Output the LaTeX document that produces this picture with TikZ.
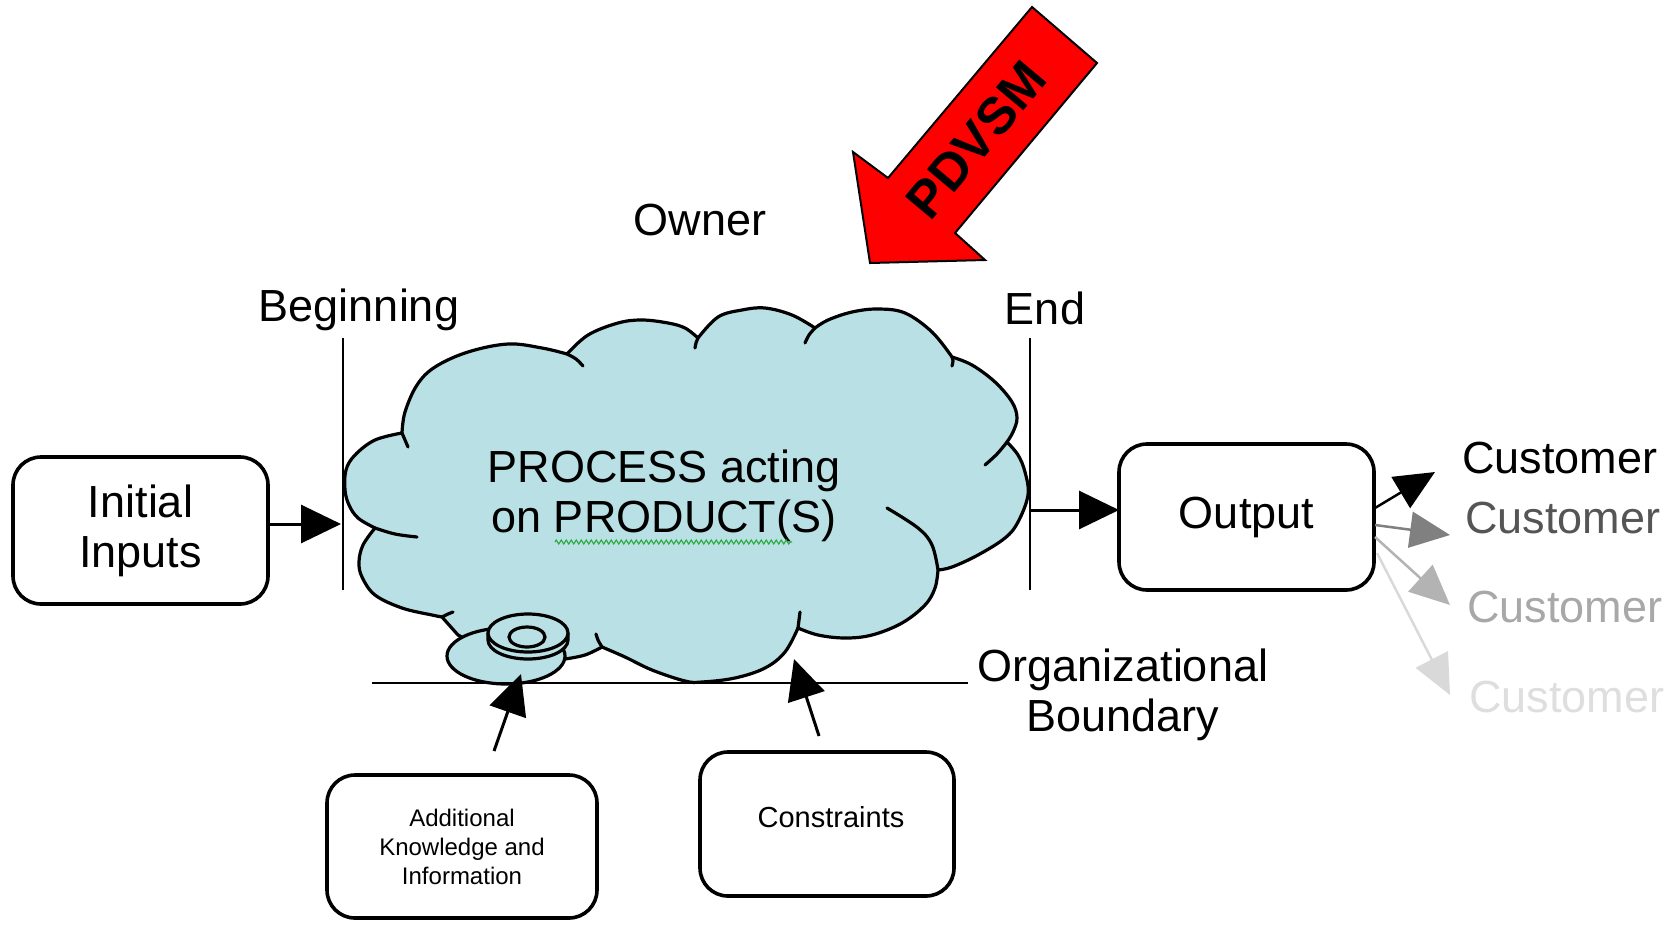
\documentclass[tikz,border=0pt]{standalone}
\usepackage{fontspec}
\setmainfont{Liberation Sans}
\usetikzlibrary{arrows.meta,decorations.pathmorphing,calc}
\definecolor{cloudblue}{RGB}{185,224,228}
\definecolor{ctwo}{HTML}{555555}
\definecolor{ctwoarr}{HTML}{808080}
\definecolor{cthree}{HTML}{A8A8A8}
\definecolor{cthreearr}{HTML}{B3B3B3}
\definecolor{cfour}{HTML}{DEDEDE}
\definecolor{cfourarr}{HTML}{D9D9D9}
\definecolor{spellgreen}{RGB}{40,170,60}
\begin{document}
\begin{tikzpicture}[x=1pt,y=-1pt,
  every node/.style={inner sep=0pt, outer sep=0pt},
  big/.style={font=\fontsize{45}{50}\selectfont, align=center},
  rbox/.style={draw, line width=3.6pt, rounded corners=28pt},
  arr/.style={line width=3pt, -{Triangle[length=40pt,width=38pt]}},
  carr/.style={line width=2.5pt, -{Triangle[length=40pt,width=36pt]}},
  ticks/.style={line width=3.2pt, line cap=round},
  cloudline/.style={line width=3.2pt, line join=round},
  vline/.style={line width=2.6pt},
  sm/.style={smooth, tension=0.6},
]
\useasboundingbox (0,0) rectangle (1677,924);

% ---------- cloud ----------
\path[fill=cloudblue, draw=black, cloudline] (375,528)
 -- plot[sm] coordinates {(375,528) (358,518) (349,505) (345,490) (346,470) (355,455) (375,440) (402,433)}
 -- plot[sm] coordinates {(402,433) (405,412) (417,385) (435,367) (468,352) (508,344) (542,348) (567,354)}
 -- plot[sm] coordinates {(567,354) (588,335) (618,323) (642,320) (668,323) (685,328) (698,338)}
 -- plot[sm] coordinates {(698,338) (718,317) (742,310) (765,308) (792,315) (815,328)}
 -- plot[sm] coordinates {(815,328) (828,320) (852,312) (878,309) (905,313) (932,332) (952,357)}
 -- plot[sm] coordinates {(952,357) (972,365) (995,382) (1012,402) (1017,418) (1013,432) (1007,442)}
 -- plot[sm] coordinates {(1007,442) (1018,455) (1025,472) (1028,495) (1018,522) (1005,538) (978,555) (952,567) (938,570)}
 -- plot[sm] coordinates {(938,570) (935,588) (925,605) (902,623) (872,635) (845,638) (818,635) (798,628)}
 -- plot[sm] coordinates {(798,628) (785,652) (765,668) (735,678) (702,682) (685,681) (652,670) (625,657) (602,647)}
 -- plot[sm] coordinates {(602,647) (585,655) (565,659)}
 -- (506,660) -- (458,635) -- (442,617)
 -- plot[sm] coordinates {(442,617) (432,615) (402,608) (375,595) (362,577) (359,562) (363,545) (375,528)}
 -- cycle;
% inner ticks of the cloud
\draw[ticks] plot[sm] coordinates {(375,528) (395,534) (417,537)};
\draw[ticks] plot[sm] coordinates {(402,433) (405,440) (408,447)};
\draw[ticks] plot[sm] coordinates {(567,354) (576,359) (583,366)};
\draw[ticks] plot[sm] coordinates {(698,338) (696,343) (695,348)};
\draw[ticks] plot[sm] coordinates {(815,328) (809,335) (805,343)};
\draw[ticks] plot[sm] coordinates {(952,357) (953,361) (952,366)};
\draw[ticks] plot[sm] coordinates {(1007,442) (997,454) (985,465)};
\draw[ticks] plot[sm] coordinates {(938,570) (932,545) (918,528) (887,508)};
\draw[ticks] plot[sm] coordinates {(798,628) (799,620) (800,612)};
\draw[ticks] plot[sm] coordinates {(602,647) (598,640) (596,634)};
\draw[ticks] plot[sm] coordinates {(442,617) (448,614) (453,612)};

% ---------- disc ----------
\draw[fill=cloudblue, line width=3.2pt] (506,656) ellipse [x radius=59, y radius=28];
\draw[fill=cloudblue, line width=3.2pt, line join=round] (488,633) -- (488,640)
  .. controls (488,650.5) and (505.9,659) .. (528,659)
  .. controls (550.1,659) and (568,650.5) .. (568,640) -- (568,633);
\draw[fill=cloudblue, line width=3.2pt] (528,633) ellipse [x radius=40, y radius=19];
\draw[line width=3.2pt] (527,637) ellipse [x radius=18, y radius=10];

% ---------- text in cloud ----------
\node[big] (proc) at (664,496) {PROCESS acting\\on PRODUCT(S)};
\draw[spellgreen, line width=1.1pt, decorate, decoration={zigzag, segment length=5pt, amplitude=2pt}] (555,542) -- (792,542);

% ---------- beginning / end lines ----------
\coordinate (begtop) at (343,338);
\coordinate (begbot) at (343,590);
\coordinate (endtop) at (1030,338);
\coordinate (endbot) at (1030,590);
\draw[vline] (begtop) -- (begbot);
\draw[vline] (endtop) -- (endbot);
\node[big] (beg) at (359,310) {Beginning};
\node[big] (endl) at (1045,308) {End};
\node[big] (own) at (700,220) {Owner};

% ---------- boundary ----------
\coordinate (bl) at (372,683);
\coordinate (br) at (968,683);
\draw[vline] (bl) -- (br);
\node[big] (org) at (1123,695) {Organizational\\Boundary};

% ---------- boxes ----------
\node[rbox, big, minimum width=255pt, minimum height=147pt] (init) at (140.5,530.5) {Initial\\Inputs};
\node[rbox, big, minimum width=255pt, minimum height=146pt] (out) at (1246.5,517) {Output};
\node[rbox, align=center, font=\fontsize{24}{29}\selectfont, minimum width=270pt, minimum height=143pt] (add) at (462,846.5) {Additional\\Knowledge and\\Information};
\node[rbox, minimum width=254pt, minimum height=144pt] (con) at (827,824) {};
\node[font=\fontsize{29}{32}\selectfont] (contxt) at (831,817) {Constraints};

% ---------- main arrows ----------
\coordinate (inA) at (341,524);
\draw[arr] (init.east |- inA) -- (inA);
\coordinate (endA) at (1030,510);
\draw[arr] (endA) -- (out.west |- endA);
\coordinate (addS) at (494,751);
\coordinate (addT) at (521,674);
\draw[arr] (addS) -- (addT);
\coordinate (conS) at (819,736);
\coordinate (conT) at (794,659);
\draw[arr] (conS) -- (conT);

% ---------- red arrow ----------
\draw[fill=red, line width=2pt, line join=miter] (1032,7) -- (1097,63) -- (955,233) -- (985,260) -- (870,263) -- (853,152) -- (888,178) -- cycle;
\node[font=\bfseries\fontsize{52}{52}\selectfont, rotate=50] (pdvsm) at (976,140) {PDVSM};

% ---------- customers ----------
\node[big, anchor=west] (cu1) at (1462,458) {Customer};
\node[big, anchor=west, text=ctwo] (cu2) at (1465,518) {Customer};
\node[big, anchor=west, text=cthree] (cu3) at (1467,607) {Customer};
\node[big, anchor=west, text=cfour] (cu4) at (1469,697) {Customer};
\coordinate (c1s) at (1375,508); \coordinate (c1t) at (1435,472);
\coordinate (c2s) at (1375,525); \coordinate (c2t) at (1450,535);
\coordinate (c3s) at (1375,537); \coordinate (c3t) at (1450,605);
\coordinate (c4s) at (1377,553); \coordinate (c4t) at (1450,695);
\draw[carr, draw=cfourarr] (c4s) -- (c4t);
\draw[carr, draw=cthreearr] (c3s) -- (c3t);
\draw[carr, draw=ctwoarr] (c2s) -- (c2t);
\draw[carr, draw=black] (c1s) -- (c1t);
\end{tikzpicture}
\end{document}
